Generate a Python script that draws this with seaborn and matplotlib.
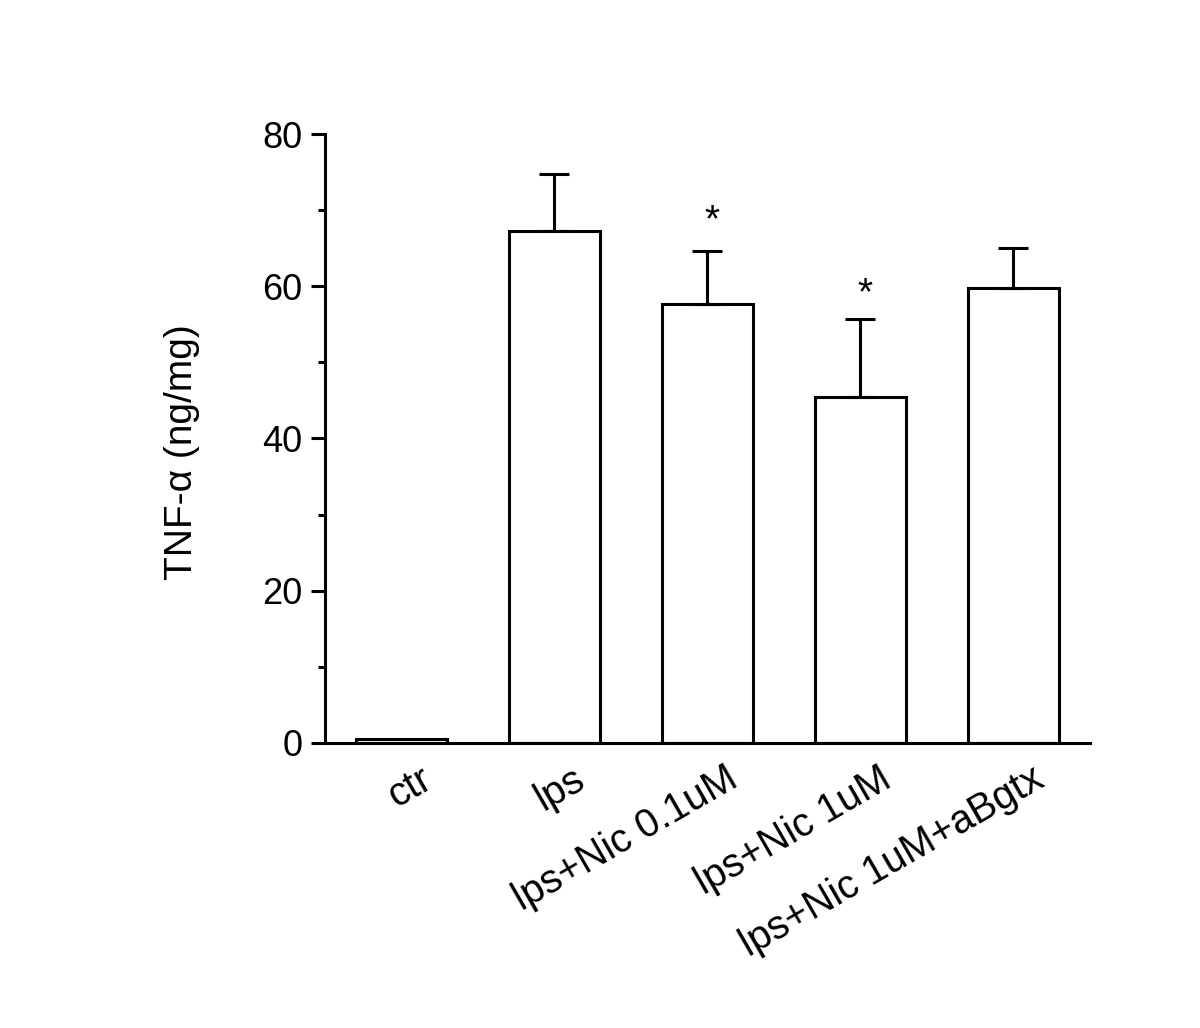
import matplotlib
matplotlib.use("Agg")
import matplotlib.pyplot as plt
import matplotlib.transforms as mtransforms
from matplotlib.ticker import MultipleLocator
import seaborn as sns
import pandas as pd

categories = ["ctr", "lps", "lps+Nic 0.1uM", "lps+Nic 1uM", "lps+Nic 1uM+aBgtx"]
means = [0.5, 67.3, 57.7, 45.4, 59.8]
errors = [0.0, 7.4, 6.9, 10.3, 5.2]
significant = [False, False, True, True, False]
star_values = [None, None, 68.6, 59.0, None]

sns.set_style("ticks")
plt.rcParams['font.family'] = ['Liberation Sans', 'DejaVu Sans']
for k in ['text.color', 'axes.labelcolor', 'xtick.color', 'ytick.color', 'axes.edgecolor']:
    plt.rcParams[k] = 'black'

df = pd.DataFrame({"group": categories, "value": means})

fig = plt.figure(figsize=(12, 10.28), dpi=100)
ax = fig.add_axes([0.2708, 0.2773, 0.6375, 0.5923])

sns.barplot(data=df, x="group", y="value", order=categories, ax=ax,
            color="white", edgecolor="black", linewidth=2.2, width=0.59,
            errorbar=None)

for i, (m, e) in enumerate(zip(means, errors)):
    if e > 0:
        ax.errorbar(i, m, yerr=[[0], [e]], fmt='none', ecolor='black',
                    elinewidth=2.2, capsize=11, capthick=2.2)
    if significant[i]:
        ax.text(i + 0.03, star_values[i], "*", ha='center', va='center', fontsize=28)

ax.set_xlim(-0.5, 4.5)
ax.set_ylim(0, 80)
ax.yaxis.set_major_locator(MultipleLocator(20))
ax.yaxis.set_minor_locator(MultipleLocator(10))
ax.tick_params(axis='y', which='major', direction='out', length=10, width=2.2, labelsize=26, pad=6)
ax.tick_params(axis='y', which='minor', direction='out', length=5, width=2.2)
ax.tick_params(axis='x', which='both', length=0, labelsize=28.5, pad=12)

for s in ['top', 'right']:
    ax.spines[s].set_visible(False)
for s in ['left', 'bottom']:
    ax.spines[s].set_linewidth(2.2)

ax.set_xlabel("")
ax.set_ylabel("TNF-α (ng/mg)", fontsize=28)
ax.yaxis.set_label_coords(-0.163, 0.478)

offset = mtransforms.ScaledTranslation(0.18, 0, fig.dpi_scale_trans)
for lab in ax.get_xticklabels():
    lab.set_rotation(30)
    lab.set_ha('right')
    lab.set_rotation_mode('anchor')
    lab.set_transform(lab.get_transform() + offset)

fig.savefig("out.png", dpi=100)
